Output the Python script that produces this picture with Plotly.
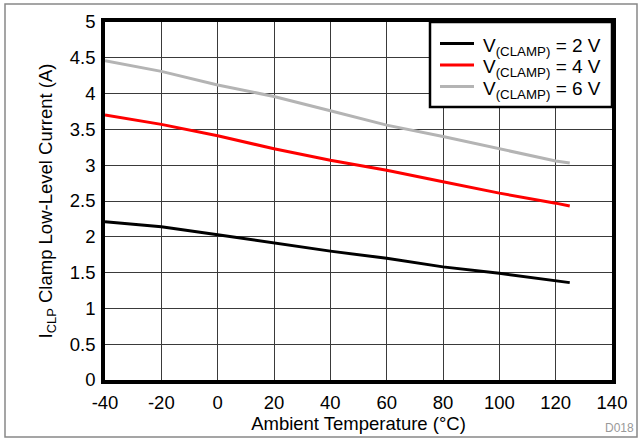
import plotly.graph_objects as go

temps = [-40, -20, 0, 20, 40, 60, 80, 100, 120, 125]
i_2v = [2.21, 2.14, 2.03, 1.91, 1.80, 1.70, 1.58, 1.49, 1.39, 1.36]
i_4v = [3.70, 3.57, 3.41, 3.23, 3.07, 2.93, 2.77, 2.61, 2.47, 2.43]
i_6v = [4.46, 4.31, 4.12, 3.96, 3.76, 3.56, 3.40, 3.23, 3.06, 3.03]
series_names = ["V<sub>(CLAMP)</sub> = 2 V", "V<sub>(CLAMP)</sub> = 4 V", "V<sub>(CLAMP)</sub> = 6 V"]
colors = ["#000000", "#ff0000", "#b4b4b4"]
x_ticks = [-40, -20, 0, 20, 40, 60, 80, 100, 120, 140]
x_ticktext = ["-40", "-20", "0", "20", "40", "60", "80", "100", "120", "140"]
y_ticks = [0, 0.5, 1, 1.5, 2, 2.5, 3, 3.5, 4, 4.5, 5]
y_ticktext = ["0", "0.5", "1", "1.5", "2", "2.5", "3", "3.5", "4", "4.5", "5"]

FONT = "Liberation Sans, Arial, sans-serif"
FS = 18.5
fig = go.Figure()
for ys, name, c in zip([i_2v, i_4v, i_6v], series_names, colors):
    fig.add_trace(go.Scatter(x=temps, y=ys, mode="lines", name=name,
                             line=dict(color=c, width=3), showlegend=False))

L, R, T, B = 105, 612, 22, 380
W, H = 642, 440
def px(x): return (x - L) / (R - L)
def py(y): return (B - y) / (B - T)

shapes = [dict(type="rect", xref="paper", yref="paper",
               x0=px(5), x1=px(637), y0=py(437), y1=py(4),
               line=dict(color="#888888", width=1.5), layer="below"),
          # legend box
          dict(type="rect", xref="paper", yref="paper",
               x0=px(430), x1=px(612), y0=py(107), y1=py(22),
               line=dict(color="black", width=2.5), fillcolor="white", layer="above")]
annotations = [dict(text="D018", xref="paper", yref="paper",
                    x=px(636), y=py(428), xanchor="right", yanchor="middle",
                    showarrow=False, font=dict(size=12, color="#999999"))]
row_y = [43.5, 65, 86.5]
for name, c, ry in zip(series_names, colors, row_y):
    shapes.append(dict(type="line", xref="paper", yref="paper",
                       x0=px(440), x1=px(474), y0=py(ry), y1=py(ry),
                       line=dict(color=c, width=3), layer="above"))
    annotations.append(dict(text=name, xref="paper", yref="paper",
                            x=px(481), y=py(ry + 3), xanchor="left", yanchor="middle",
                            showarrow=False, font=dict(size=19, color="black")))

fig.update_layout(
    width=W, height=H,
    margin=dict(l=L, r=W - R, t=T, b=H - B, autoexpand=False),
    paper_bgcolor="white", plot_bgcolor="white",
    font=dict(family=FONT, size=FS, color="black"),
    showlegend=False,
    xaxis=dict(range=[-40, 140], tickvals=x_ticks, ticktext=x_ticktext,
               showgrid=True, gridcolor="#3a3a3a", gridwidth=1,
               showline=True, linecolor="black", linewidth=3.5, mirror=True,
               ticks="", zeroline=False, ticklabelstandoff=3,
               title=dict(text="Ambient Temperature (°C)", standoff=2, font=dict(size=FS))),
    yaxis=dict(range=[0, 5], tickvals=y_ticks, ticktext=y_ticktext,
               showgrid=True, gridcolor="#3a3a3a", gridwidth=1,
               showline=True, linecolor="black", linewidth=3.5, mirror=True,
               ticks="", zeroline=False, ticklabelstandoff=2,
               title=dict(text="I<sub>CLP</sub> Clamp Low-Level Current (A)", standoff=13, font=dict(size=FS))),
    shapes=shapes,
    annotations=annotations,
)

fig.write_html("out.html", config={"displayModeBar": False},
               post_script="document.body.style.margin='0';")
